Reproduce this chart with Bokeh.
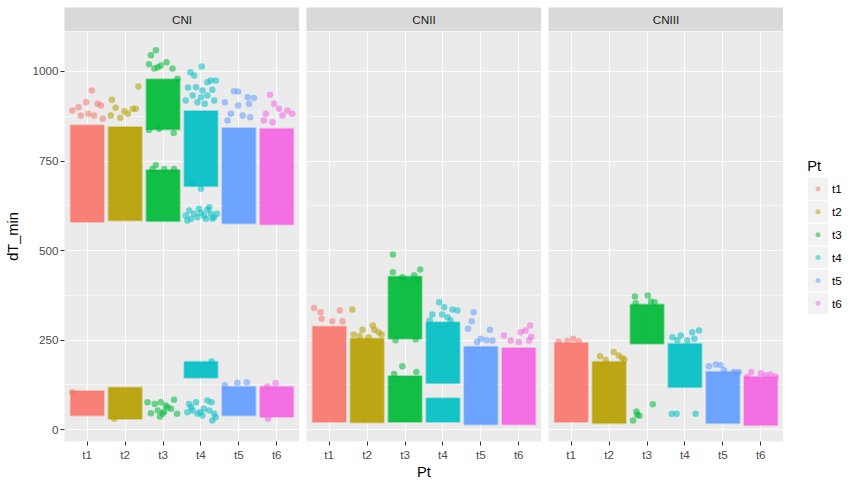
from bokeh.plotting import figure
from bokeh.layouts import row, column
from bokeh.models import Range1d, FixedTicker, Grid, ColumnDataSource
from bokeh.core.properties import value
from bokeh.embed import file_html
from bokeh.resources import INLINE

# ---------------- data ----------------
facets = ["CNI", "CNII", "CNIII"]
cats = ["t1", "t2", "t3", "t4", "t5", "t6"]
y_ticks = [0, 250, 500, 750, 1000]
y_minor = [125, 375, 625, 875]
y_limits = [-32.7, 1111.6]

# dense clouds of jittered points: extent (low, high) per facet / category
band_facet = ["CNI"] * 12 + ["CNII"] * 8 + ["CNIII"] * 6
band_cat = ["t1", "t1", "t2", "t2", "t3", "t3", "t4", "t4", "t5", "t5", "t6", "t6",
            "t1", "t2", "t3", "t3", "t4", "t4", "t5", "t6",
            "t1", "t2", "t3", "t4", "t5", "t6"]
band_lo = [580, 40, 584, 30, 838, 582, 680, 145, 576, 40, 573, 36,
           22, 20, 254, 22, 130, 22, 15, 15,
           22, 18, 240, 119, 18, 13]
band_hi = [850, 108, 845, 118, 978, 725, 890, 190, 842, 120, 840, 120,
           288, 255, 428, 150, 300, 88, 232, 228,
           242, 190, 350, 240, 162, 148]

# sparse / outlying points: jitter offset and value, one sub-list per category
cni_jit = [
    [0.12, -0.23, -0.03, 0.27, 0.36, -0.39, 0.03, 0.18, -0.17, 0.41, -0.39],
    [0.35, -0.35, -0.25, -0.02, 0.20, 0.28, 0.07, -0.38, -0.13, -0.29],
    [-0.19, -0.32, 0.09, -0.06, -0.37, 0.25, -0.23, -0.14, 0.38, 0.28, -0.37, -0.10,
     -0.19, -0.28, 0.03, 0.29, -0.41, -0.22, -0.06, 0.07, 0.29, -0.32, -0.14, -0.01,
     -0.08, 0.12, 0.21, 0.37, 0.03],
    [0.02, -0.28, -0.18, 0.26, 0.39, 0.17, -0.34, -0.13, 0.04, 0.30, -0.40, -0.22,
     0.00, 0.17, 0.35, -0.09, 0.10, 0.00, -0.22,
     -0.40, -0.31, -0.18, -0.09, 0.00, 0.08, 0.17, 0.26, 0.35, 0.42, -0.26, 0.13,
     0.22, -0.05, -0.36, 0.30, 0.28,
     -0.31, -0.13, 0.17, 0.28, -0.36, -0.22, -0.02, 0.08, 0.22, 0.35, 0.39, 0.30,
     -0.09, 0.04, -0.26],
    [-0.13, -0.02, 0.23, 0.40, -0.37, -0.02, 0.27, -0.21, 0.10, 0.30, -0.30, -0.37,
     -0.04, 0.21],
    [-0.18, -0.07, 0.06, 0.28, 0.41, -0.29, 0.15, -0.34, -0.11, -0.25, -0.03, -0.23],
]
cni_val = [
    [947, 900, 914, 910, 905, 891, 882, 877, 877, 868, 105],
    [958, 921, 899, 889, 896, 896, 882, 877, 871, 31],
    [1059, 1045, 1026, 1017, 1020, 1008, 1008, 1012, 980, 828, 837, 840,
     738, 728, 728, 728, 77, 72, 77, 68, 84, 46, 54, 45,
     37, 63, 59, 45, 51],
    [1014, 998, 989, 975, 975, 970, 955, 956, 947, 949, 919, 933,
     928, 933, 919, 914, 910, 673, 687,
     598, 612, 603, 593, 606, 598, 614, 603, 593, 603, 589, 589,
     621, 617, 584, 589, 191,
     72, 77, 82, 77, 49, 54, 49, 59, 54, 45, 35, 26,
     45, 40, 63],
    [945, 944, 928, 926, 914, 905, 910, 882, 877, 872, 863, 124, 131, 133],
    [935, 910, 896, 891, 882, 882, 877, 863, 858, 121, 130, 31],
]
cnii_jit = [
    [-0.40, -0.23, 0.28, -0.20, 0.08, 0.35],
    [-0.39, -0.12, 0.15, 0.19, 0.30, -0.36, 0.04, -0.20, 0.38],
    [-0.32, -0.32, 0.40, 0.24, 0.33, -0.07, -0.25, 0.28, -0.07, -0.29, 0.30],
    [-0.10, 0.03, 0.25, 0.38, -0.28, -0.02, 0.12, -0.35, 0.20],
    [-0.19, -0.24, -0.34, 0.24, 0.00, 0.31, -0.10, 0.15],
    [0.30, 0.18, 0.05, 0.33, -0.39, -0.21, 0.27, 0.00],
]
cnii_val = [
    [340, 328, 333, 310, 303, 303],
    [336, 279, 291, 279, 272, 266, 258, 262, 266],
    [489, 440, 447, 431, 419, 426, 250, 252, 177, 156, 161],
    [356, 342, 336, 333, 322, 322, 314, 305, 306],
    [328, 303, 282, 279, 254, 249, 245, 250],
    [291, 277, 272, 260, 263, 249, 249, 245],
]
cniii_jit = [
    [0.05, -0.33, 0.20, -0.10],
    [0.12, 0.34, -0.24, -0.09, 0.25, 0.40],
    [-0.32, 0.02, 0.20, -0.30, 0.10, 0.15, -0.28, -0.20, -0.37, -0.26],
    [0.37, 0.19, -0.33, -0.11, 0.25, 0.06, -0.20, -0.35, -0.22, 0.28],
    [-0.37, -0.19, -0.06, 0.29, 0.42, 0.03],
    [-0.25, 0.00, 0.26, 0.39, -0.36, 0.13],
]
cniii_val = [
    [254, 246, 247, 248],
    [217, 200, 205, 195, 207, 196],
    [372, 375, 356, 353, 358, 71, 51, 39, 26, 42],
    [277, 272, 258, 263, 254, 249, 250, 45, 45, 45],
    [177, 182, 180, 161, 161, 166],
    [161, 158, 154, 149, 147, 152],
]
point_jit = {"CNI": cni_jit, "CNII": cnii_jit, "CNIII": cniii_jit}
point_val = {"CNI": cni_val, "CNII": cnii_val, "CNIII": cniii_val}

# ---------------- style ----------------
FONT = "Liberation Sans"
palette = ["#F8766D", "#B79F00", "#00BA38", "#00BFC4", "#619CFF", "#F564E3"]
PANEL_W, PANEL_H, STRIP_H = 235, 410, 24
LEFT, GAP, TOP, BOTTOM = 64, 7, 7, 43
HALF = 0.44
GRID_KW = dict(grid_line_color="white", grid_line_width=1.1,
               minor_grid_line_color="white", minor_grid_line_width=0.55)


def xpos(c):
    return cats.index(c) + 1


def hide_grids(p):
    for g in p.grid:
        g.visible = False


def strip(facet, first):
    s = figure(frame_width=PANEL_W, frame_height=STRIP_H,
               x_range=Range1d(0, 1), y_range=Range1d(0, 1),
               x_axis_location=None, y_axis_location=None,
               output_backend="svg", toolbar_location=None,
               min_border=0, min_border_top=TOP,
               min_border_left=LEFT if first else GAP)
    hide_grids(s)
    s.background_fill_color = "#D9D9D9"
    s.border_fill_color = "white"
    s.outline_line_color = None
    s.text(x=[0.5], y=[0.5], text=[facet], text_font=value(FONT),
           text_font_size="11.7px", text_color="#1A1A1A",
           text_align="center", text_baseline="middle")
    return s


def panel(facet, first, with_title):
    kw = dict(frame_width=PANEL_W, frame_height=PANEL_H,
              x_range=Range1d(0.4, 6.6), y_range=Range1d(*y_limits),
              output_backend="svg", toolbar_location=None,
              min_border=0, min_border_left=LEFT if first else GAP,
              min_border_bottom=BOTTOM)
    if not first:
        kw["y_axis_location"] = None
    p = figure(**kw)
    p.background_fill_color = "#EBEBEB"
    p.border_fill_color = "white"
    p.outline_line_color = None

    yt = FixedTicker(ticks=y_ticks, minor_ticks=y_minor)
    if first:
        ax = p.yaxis[0]
        ax.ticker = yt
        ax.axis_line_color = None
        ax.major_tick_in = 0
        ax.major_tick_out = 4
        ax.major_tick_line_color = "#333333"
        ax.minor_tick_line_color = None
        ax.major_label_text_font = FONT
        ax.major_label_text_font_size = "11.7px"
        ax.major_label_text_color = "#4D4D4D"
        ax.major_label_standoff = 2
        ax.axis_label = "dT_min"
        ax.axis_label_text_font = FONT
        ax.axis_label_text_font_size = "14.6px"
        ax.axis_label_text_font_style = "normal"
        ax.axis_label_text_color = "black"
        ax.axis_label_standoff = 8
        for k, v in GRID_KW.items():
            setattr(p.ygrid[0], k, v)
    else:
        for g in p.ygrid:
            g.visible = False
        p.add_layout(Grid(dimension=1, ticker=yt, **GRID_KW))

    xa = p.xaxis[0]
    xa.ticker = FixedTicker(ticks=[xpos(c) for c in cats])
    xa.major_label_overrides = {xpos(c): c for c in cats}
    xa.axis_line_color = None
    xa.major_tick_in = 0
    xa.major_tick_out = 4
    xa.major_tick_line_color = "#333333"
    xa.minor_tick_line_color = None
    xa.major_label_text_font = FONT
    xa.major_label_text_font_size = "11.7px"
    xa.major_label_text_color = "#4D4D4D"
    xa.major_label_standoff = 2
    if with_title:
        xa.axis_label = "Pt"
        xa.axis_label_text_font = FONT
        xa.axis_label_text_font_size = "14.6px"
        xa.axis_label_text_font_style = "normal"
        xa.axis_label_text_color = "black"
        xa.axis_label_standoff = 0
    p.xgrid[0].grid_line_color = "white"
    p.xgrid[0].grid_line_width = 1.1

    # dense clouds
    idx = [i for i, f in enumerate(band_facet) if f == facet]
    bsrc = ColumnDataSource(dict(
        left=[xpos(band_cat[i]) - HALF for i in idx],
        right=[xpos(band_cat[i]) + HALF for i in idx],
        bottom=[band_lo[i] for i in idx],
        top=[band_hi[i] for i in idx],
        color=[palette[cats.index(band_cat[i])] for i in idx]))
    p.quad(left="left", right="right", bottom="bottom", top="top",
           fill_color="color", fill_alpha=0.92, line_color="color",
           line_alpha=0.35, line_width=2, source=bsrc)

    # sparse points
    xs, ys, cs = [], [], []
    for k, c in enumerate(cats):
        for j, v in zip(point_jit[facet][k], point_val[facet][k]):
            xs.append(xpos(c) + j)
            ys.append(v)
            cs.append(palette[k])
    psrc = ColumnDataSource(dict(x=xs, y=ys, color=cs))
    p.scatter(x="x", y="y", size=6.5, fill_color="color", fill_alpha=0.55,
              line_color=None, source=psrc)
    return p


def legend_fig():
    lg = figure(frame_width=66, frame_height=PANEL_H,
                x_range=Range1d(0, 66), y_range=Range1d(PANEL_H, 0),
                x_axis_location=None, y_axis_location=None,
                output_backend="svg", toolbar_location=None, min_border=0,
                min_border_bottom=BOTTOM)
    hide_grids(lg)
    lg.outline_line_color = None
    lg.background_fill_color = "white"
    lg.border_fill_color = "white"
    key_x0, key_w, key_h, key_top = 23.7, 21.6, 22.9, 145.9
    lg.text(x=[key_x0], y=[key_top - 11.5], text=["Pt"], text_font=value(FONT),
            text_font_size="14.6px", text_color="black",
            text_align="left", text_baseline="middle")
    tops = [key_top + i * key_h for i in range(len(cats))]
    lg.quad(left=[key_x0] * len(cats), right=[key_x0 + key_w] * len(cats),
            top=tops, bottom=[t + key_h for t in tops],
            fill_color="#F2F2F2", line_color="white", line_width=1)
    centers = [t + key_h / 2 for t in tops]
    lg.scatter(x=[key_x0 + key_w / 2] * len(cats), y=centers, size=5,
               fill_color=palette, fill_alpha=0.5, line_color=None)
    lg.text(x=[key_x0 + key_w + 3.2] * len(cats), y=centers, text=cats,
            text_font=value(FONT), text_font_size="11.7px", text_color="black",
            text_align="left", text_baseline="middle")
    return lg


strips = row(*[strip(f, i == 0) for i, f in enumerate(facets)])
panels = row(*[panel(f, i == 0, i == 1) for i, f in enumerate(facets)], legend_fig())
page = column(strips, panels)

open("out.html", "w").write(file_html(page, INLINE))
